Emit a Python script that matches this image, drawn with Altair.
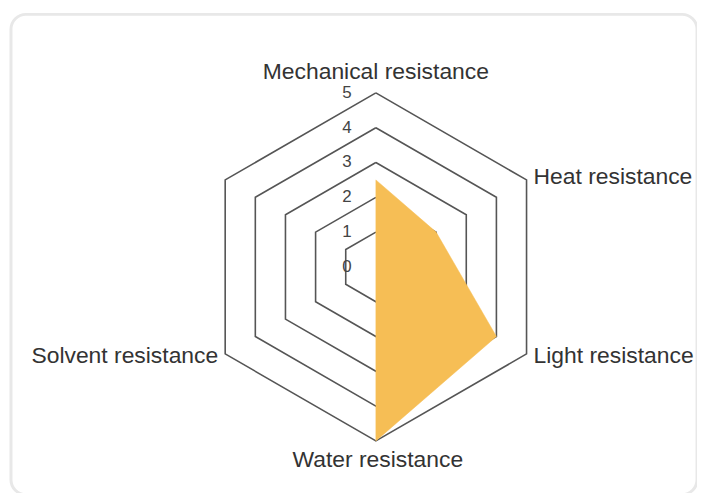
import math
import altair as alt
import pandas as pd

# ---- data ----
categories = ["Mechanical resistance", "Heat resistance", "Light resistance",
              "Water resistance", "Solvent resistance", ""]
values = [2.5, 2, 4, 5, 0, 0]
levels = [1, 2, 3, 4, 5]
tick_values = [0, 1, 2, 3, 4, 5]
tick_labels = ["0", "1", "2", "3", "4", "5"]
max_level = 5

n = len(categories)
angles = [2 * math.pi * k / n for k in range(n)]

def px(r, a):
    return r * math.sin(a)

def py(r, a):
    return r * math.cos(a)

# grid hexagons
grid_rows = []
for lv in levels:
    for i in range(n + 1):
        a = angles[i % n]
        grid_rows.append({"level": lv, "order": i, "x": px(lv, a), "y": py(lv, a)})
grid_df = pd.DataFrame(grid_rows)

# data polygon
poly_rows = []
for i in range(n + 1):
    a = angles[i % n]
    v = values[i % n]
    poly_rows.append({"order": i, "x": px(v, a), "y": py(v, a), "cat": categories[i % n]})
poly_df = pd.DataFrame(poly_rows)

# category labels
lab_df = pd.DataFrame({
    "cat": categories,
    "x": [px(max_level, a) for a in angles],
    "y": [py(max_level, a) for a in angles],
})

# tick labels
tick_df = pd.DataFrame({"v": tick_values, "label": tick_labels,
                        "x": [0.0] * len(tick_values)})

unit = 35.0
W, H = 690, 483
cx, cy = 367, 254
xs = alt.Scale(domain=[-cx / unit, (W - cx) / unit], nice=False, zero=False)
ys = alt.Scale(domain=[-(H - cy) / unit, cy / unit], nice=False, zero=False)

X = lambda: alt.X("x:Q", scale=xs, axis=None)
Y = lambda: alt.Y("y:Q", scale=ys, axis=None)

poly = alt.Chart(poly_df).mark_line(
    fill="#F6BE55", stroke="#F6BE55", strokeWidth=0.5, interpolate="linear-closed"
).encode(x=X(), y=Y(), order="order:O")

grid = alt.Chart(grid_df).mark_line(color="#555555", strokeWidth=1.6).encode(
    x=X(), y=Y(), detail="level:N", order="order:O")

ticks = alt.Chart(tick_df).mark_text(
    fontSize=17, font="Liberation Sans", color="#444444", dx=-29,
    align="center", baseline="middle"
).encode(x=X(), y=alt.Y("v:Q", scale=ys, axis=None), text="label:N")

font = "Liberation Sans"
tcol = "#333333"

def label_layer(cat, dx, dy, align):
    return alt.Chart(lab_df).transform_filter(
        alt.datum.cat == cat
    ).mark_text(fontSize=23, font=font, color=tcol, dx=dx, dy=dy,
                align=align, baseline="alphabetic").encode(
        x=X(), y=Y(), text="cat:N")

labels = [
    label_layer(categories[0], 0, -14, "center"),
    label_layer(categories[1], 7, 4, "left"),
    label_layer(categories[2], 7, 9, "left"),
    label_layer(categories[3], 2, 26, "center"),
    label_layer(categories[4], -7, 9, "right"),
]

chart = alt.layer(grid, ticks, poly, *labels).properties(
    width=W, height=H,
    padding={"left": 3, "top": 5, "right": 0, "bottom": 0},
    autosize=alt.AutoSizeParams(type="none"),
    background="white",
).configure_view(
    stroke="#e8e8e8", strokeWidth=3, cornerRadius=15
)

chart.save("out.html", embed_options={"renderer": "svg", "actions": False})
